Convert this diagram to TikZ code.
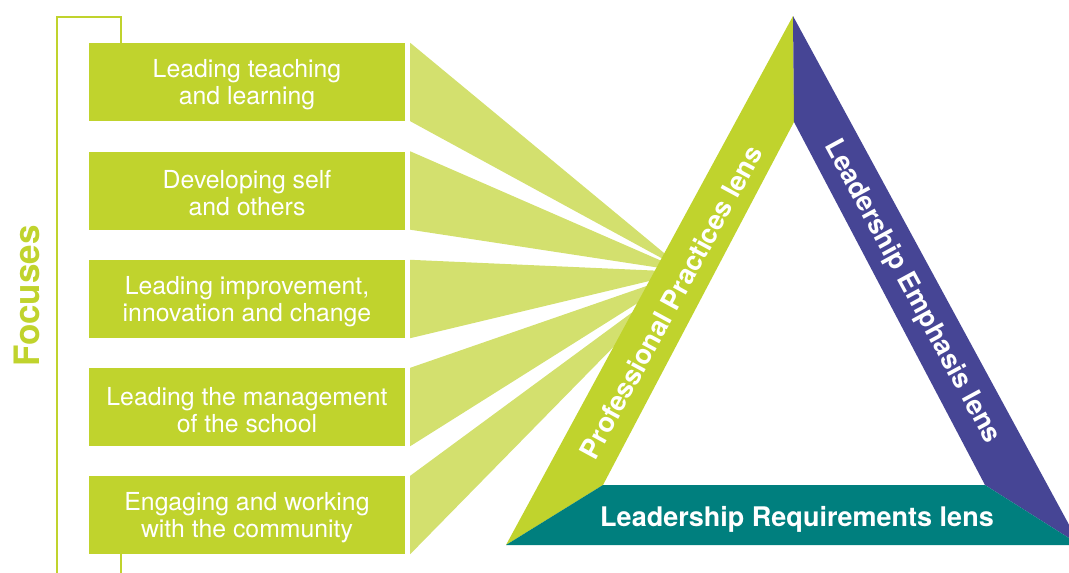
\documentclass[tikz,border=0pt]{standalone}
\usepackage{fontspec}
\setmainfont{TeX Gyre Heros}
\definecolor{vertfonce}{RGB}{192,211,45}
\definecolor{vertclair}{RGB}{211,224,110}
\definecolor{violet}{RGB}{70,69,149}
\definecolor{sarcelle}{RGB}{0,127,126}
\newcommand{\haut}{\rule{0pt}{24pt}}
\begin{document}
\begin{tikzpicture}[x=1pt,y=-1pt,
  focus/.style={fill=vertfonce,text=white,minimum width=316pt,minimum height=78pt,inner sep=0pt,align=center,font=\fontsize{24.8}{27}\selectfont},
  rayon/.style={fill=vertclair},
  lentille/.style={text=white,inner sep=0pt,font=\bfseries\fontsize{27}{30}\selectfont}]
  \useasboundingbox (0,0) rectangle (1069,573);
  \clip (0,0) rectangle (1069,573);

  % Cadre
  \draw[vertfonce,line width=2pt] (120.5,43) -- (120.5,16.5) -- (56.5,16.5) -- (56.5,575);
  \draw[vertfonce,line width=2pt] (120.5,554) -- (120.5,575);
  \node[rotate=90,text=vertfonce,font=\bfseries\fontsize{35}{40}\selectfont] (titre) at (27,296) {Focuses};

  % Cases
  \node[focus] (f1) at (247,82) {\haut Leading teaching\\and learning};
  \node[focus] (f2) at (247,190.5) {\haut Developing self\\and others};
  \node[focus] (f3) at (247,299) {\haut Leading improvement,\\innovation and change};
  \node[focus] (f4) at (247,407) {\haut Leading the management\\of the school};
  \node[focus] (f5) at (247,515) {\haut Engaging and working\\with the community};

  % Rayons
  \coordinate (conv) at (687,272);
  \fill[rayon] ([xshift=5pt]f1.north east) -- ([xshift=5pt]f1.south east) -- (conv) -- cycle;
  \fill[rayon] ([xshift=5pt]f2.north east) -- ([xshift=5pt]f2.south east) -- (conv) -- cycle;
  \fill[rayon] ([xshift=5pt]f3.north east) -- ([xshift=5pt]f3.south east) -- (conv) -- cycle;
  \fill[rayon] ([xshift=5pt]f4.north east) -- ([xshift=5pt]f4.south east) -- (conv) -- cycle;
  \fill[rayon] ([xshift=5pt]f5.north east) -- ([xshift=5pt]f5.south east) -- (conv) -- cycle;

  % Triangle
  \coordinate (sommet) at (793,16);
  \coordinate (gauche) at (506,545);
  \coordinate (droite) at (1080,545);
  \coordinate (isommet) at (794,122);
  \coordinate (igauche) at (603,485);
  \coordinate (idroite) at (985,485);
  \fill[vertfonce] (sommet) -- (gauche) -- (igauche) -- (isommet) -- cycle;
  \fill[violet] (sommet) -- (droite) -- (idroite) -- (isommet) -- cycle;
  \fill[sarcelle] (gauche) -- (droite) -- (idroite) -- (igauche) -- cycle;

  % Textes des lentilles
  \node[lentille,rotate=61.5] (pro) at (671,302) {Professional Practices lens};
  \node[lentille,rotate=-61.5] (emph) at (912,292) {Leadership Emphasis lens};
  \node[lentille] (req) at (797,519) {Leadership Requirements lens};
\end{tikzpicture}
\end{document}
